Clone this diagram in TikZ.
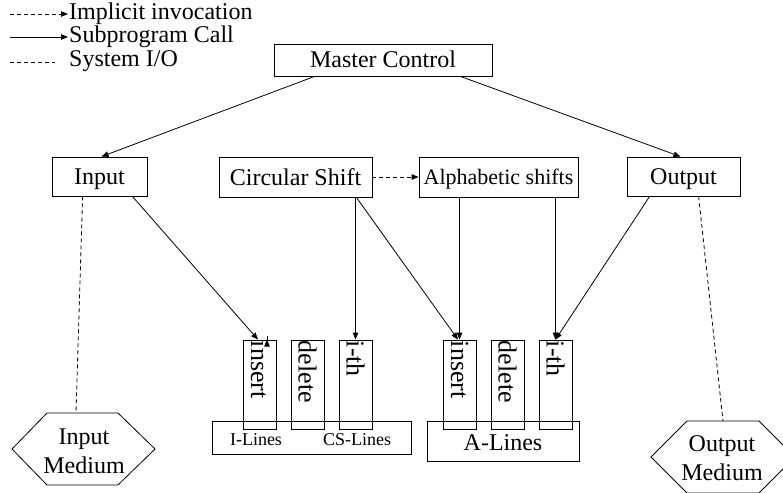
\documentclass[tikz,border=0pt]{standalone}
\usepackage{fontspec}
\setmainfont{Liberation Serif}
\usetikzlibrary{arrows.meta,calc}
\begin{document}
\begin{tikzpicture}[x=1pt,y=-1pt,
  every node/.style={font=\fontsize{24}{28}\selectfont},
  box/.style={draw,line width=0.8pt,inner sep=0pt,text height=16pt,text depth=0pt},
  opbox/.style={draw,line width=0.8pt,minimum width=33pt,minimum height=89pt,inner sep=0pt},
  optext/.style={rotate=-90,anchor=west,inner sep=0pt,font=\fontsize{26}{30}\selectfont},
  call/.style={line width=0.8pt,-{Triangle[length=7pt,width=5.5pt]}},
  impl/.style={line width=0.8pt,dash pattern=on 4pt off 3pt,-{Triangle[length=7pt,width=5.5pt]}},
  sysio/.style={line width=0.8pt,dash pattern=on 4pt off 3pt},
  lgd/.style={anchor=west,inner sep=1pt},
  hexa/.style={line width=0.8pt}]
\clip (0,0) rectangle (783,492);
\fill[white] (0,0) rectangle (783,492);

% legend
\node[lgd] (t1) at (68,14) {Implicit invocation};
\node[lgd] (t2) at (68,37) {Subprogram Call};
\node[lgd] (t3) at (68,61) {System I/O};
\coordinate (l1) at (10,14);
\coordinate (l2) at (10,37);
\coordinate (l3) at (10,62);
\coordinate (l3e) at (55,62);
\draw[impl] (l1) -- (t1.west);
\draw[call] (l2) -- (t2.west);
\draw[sysio] (l3) -- (l3e);

% main boxes
\node[box,minimum width=218pt,minimum height=32pt] (mc) at (383,60) {Master Control};
\node[box,minimum width=95pt,minimum height=39pt] (input) at (99.5,176.5) {Input};
\node[box,minimum width=153pt,minimum height=40pt] (cs) at (295.5,177) {Circular Shift};
\node[box,minimum width=159pt,minimum height=40pt,font=\fontsize{22}{26}\selectfont,text height=15pt] (alpha) at (498.5,177) {Alphabetic shifts};
\node[box,minimum width=113pt,minimum height=39pt] (output) at (683.5,176.5) {Output};

% line stores
\node[box,minimum width=199pt,minimum height=33pt] (ilines) at (311.5,437.5) {};
\node[inner sep=0pt,font=\fontsize{18}{20}\selectfont] (ilab) at (256,440) {I-Lines};
\node[inner sep=0pt,font=\fontsize{18}{20}\selectfont] (cslab) at (357,440) {CS-Lines};
\node[box,minimum width=152pt,minimum height=40pt] (alines) at (503,441) {};
\node[inner sep=0pt] (alab) at (503,443) {A-Lines};

% operation boxes
\node[opbox] (ins1) at (259.5,384.5) {};
\node[opbox] (del1) at (307.5,384.5) {};
\node[opbox] (ith1) at (355.5,384.5) {};
\node[opbox] (ins2) at (459.5,384.5) {};
\node[opbox] (del2) at (507.5,384.5) {};
\node[opbox] (ith2) at (555.5,384.5) {};
\node[optext] (tins1) at ($(ins1.north)+(0,1)$) {insert};
\node[optext] (tdel1) at ($(del1.north)+(0,1)$) {delete};
\node[optext] (tith1) at ($(ith1.north)+(0,1)$) {i-th};
\node[optext] (tins2) at ($(ins2.north)+(0,1)$) {insert};
\node[optext] (tdel2) at ($(del2.north)+(0,1)$) {delete};
\node[optext] (tith2) at ($(ith2.north)+(0,1)$) {i-th};

% media
\node[inner sep=0pt,align=center,font=\fontsize{24}{29}\selectfont] (im) at (84,451) {Input\\Medium};
\node[inner sep=0pt,align=center,font=\fontsize{24}{29}\selectfont] (om) at (722,458) {Output\\Medium};
\coordinate (imc) at (83.5,449);
\coordinate (omc) at (723,457);
\draw[hexa] ($(imc)+(-36.5,-36)$) -- ($(imc)+(34.5,-36)$) -- ($(imc)+(71.5,0)$) -- ($(imc)+(34.5,36)$) -- ($(imc)+(-36.5,36)$) -- ($(imc)+(-71.5,0)$) -- cycle;
\draw[hexa] ($(omc)+(-36,-36)$) -- ($(omc)+(36,-36)$) -- ($(omc)+(72,0)$) -- ($(omc)+(36,36)$) -- ($(omc)+(-36,36)$) -- ($(omc)+(-72,0)$) -- cycle;
\coordinate (imtop) at ($(imc)+(-7.5,-36)$);
\coordinate (omtop) at ($(omc)+(0,-36)$);

% connectors
\draw[call] ($(mc.south west)+(41,0)$) -- ($(input.north)+(2,0)$);
\draw[call] ($(mc.south east)+(-32,0)$) -- ($(output.north)+(-3,0)$);
\draw[call] ($(input.south east)+(-15,0)$) -- ($(ins1.north)+(-1.5,0)$);
\draw[impl] ($(ins1.north)+(7.5,0)$) -- ($(ins1.north)+(7.5,0)$ |- cs.south);
\draw[call] (ith1.north |- cs.south) -- (ith1.north);
\draw[call] ($(cs.south east)+(-16,0)$) -- ($(ins2.north)+(-1.5,0)$);
\draw[call] (ins2.north |- alpha.south) -- (ins2.north);
\draw[call] (ith2.north |- alpha.south) -- (ith2.north);
\draw[call] ($(output.south west)+(23,0)$) -- (ith2.north);
\draw[impl] (cs.east) -- (alpha.west);
\draw[sysio] ($(input.south west)+(31,0)$) -- (imtop);
\draw[sysio] ($(output.south west)+(72,0)$) -- (omtop);
\end{tikzpicture}
\end{document}
